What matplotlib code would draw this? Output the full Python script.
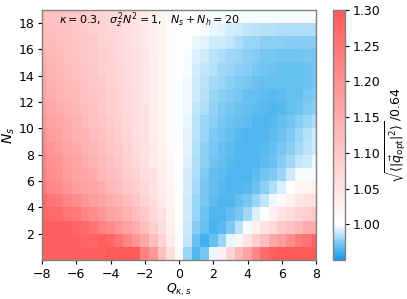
import numpy as np
import matplotlib
matplotlib.use("Agg")
import matplotlib.pyplot as plt
from matplotlib.colors import LinearSegmentedColormap

# Q values are the cell centres, Ns rows are cell-edge aligned (top row first below)
q_values = np.arange(-8, 8.5, 0.5)
ns_edges = np.arange(0, 20)
x_ticks = [-8, -6, -4, -2, 0, 2, 4, 6, 8]
y_ticks = [2, 4, 6, 8, 10, 12, 14, 16, 18]
cbar_ticks = [1.00, 1.05, 1.10, 1.15, 1.20, 1.25, 1.30]

# Q<=0 side, rows Ns=18 down to 0
left_rows = [
    [1.12, 1.115, 1.11, 1.105, 1.10, 1.095, 1.09, 1.08, 1.075, 1.065, 1.06, 1.05, 1.04, 1.03, 1.02, 1.01, 1.00],
    [1.125, 1.12, 1.115, 1.11, 1.10, 1.095, 1.09, 1.085, 1.075, 1.07, 1.06, 1.05, 1.04, 1.03, 1.02, 1.01, 1.00],
    [1.13, 1.125, 1.12, 1.11, 1.105, 1.10, 1.095, 1.085, 1.08, 1.07, 1.06, 1.05, 1.04, 1.03, 1.02, 1.01, 1.00],
    [1.14, 1.13, 1.125, 1.115, 1.11, 1.10, 1.095, 1.09, 1.08, 1.07, 1.06, 1.055, 1.045, 1.03, 1.02, 1.01, 1.00],
    [1.15, 1.14, 1.13, 1.12, 1.115, 1.105, 1.10, 1.09, 1.085, 1.075, 1.065, 1.055, 1.045, 1.035, 1.02, 1.01, 1.00],
    [1.155, 1.145, 1.135, 1.125, 1.12, 1.11, 1.10, 1.095, 1.085, 1.075, 1.065, 1.055, 1.045, 1.035, 1.02, 1.01, 1.00],
    [1.16, 1.15, 1.14, 1.13, 1.125, 1.115, 1.105, 1.10, 1.09, 1.08, 1.07, 1.06, 1.045, 1.035, 1.02, 1.01, 1.00],
    [1.175, 1.16, 1.15, 1.14, 1.13, 1.12, 1.11, 1.10, 1.09, 1.08, 1.07, 1.06, 1.05, 1.035, 1.02, 1.01, 1.00],
    [1.185, 1.17, 1.16, 1.15, 1.14, 1.125, 1.115, 1.105, 1.095, 1.085, 1.07, 1.06, 1.05, 1.035, 1.02, 1.01, 1.00],
    [1.20, 1.18, 1.17, 1.155, 1.145, 1.135, 1.12, 1.11, 1.10, 1.09, 1.075, 1.06, 1.05, 1.035, 1.02, 1.01, 1.00],
    [1.21, 1.19, 1.18, 1.165, 1.155, 1.14, 1.13, 1.12, 1.105, 1.095, 1.08, 1.065, 1.05, 1.04, 1.025, 1.012, 1.001],
    [1.22, 1.20, 1.19, 1.175, 1.165, 1.15, 1.14, 1.125, 1.115, 1.10, 1.085, 1.07, 1.055, 1.04, 1.03, 1.015, 1.001],
    [1.23, 1.21, 1.20, 1.18, 1.17, 1.16, 1.15, 1.13, 1.12, 1.11, 1.09, 1.08, 1.06, 1.05, 1.03, 1.015, 1.001],
    [1.24, 1.22, 1.21, 1.19, 1.18, 1.17, 1.16, 1.15, 1.13, 1.12, 1.10, 1.09, 1.07, 1.05, 1.035, 1.02, 1.002],
    [1.27, 1.25, 1.24, 1.22, 1.21, 1.19, 1.18, 1.17, 1.15, 1.14, 1.12, 1.10, 1.08, 1.06, 1.04, 1.02, 1.002],
    [1.28, 1.27, 1.27, 1.25, 1.24, 1.22, 1.21, 1.19, 1.17, 1.16, 1.14, 1.12, 1.10, 1.07, 1.05, 1.025, 1.003],
    [1.29, 1.29, 1.29, 1.29, 1.28, 1.27, 1.25, 1.23, 1.21, 1.19, 1.17, 1.15, 1.12, 1.09, 1.06, 1.03, 1.005],
    [1.29, 1.29, 1.29, 1.29, 1.29, 1.28, 1.28, 1.29, 1.28, 1.25, 1.22, 1.19, 1.16, 1.12, 1.08, 1.04, 1.005],
    [1.29, 1.29, 1.29, 1.29, 1.29, 1.29, 1.29, 1.29, 1.30, 1.30, 1.30, 1.30, 1.23, 1.19, 1.115, 1.06, 1.01],
]

# same rows, Q>0 side
right_rows = [
    [1.0, 1.0, 1.0, .999, .999, .999, .999, .998, .998, .998, .998, .998, .998, .998, .998, .998],
    [1.0, 1.0, .998, .996, .994, .992, .99, .988, .986, .985, .985, .984, .984, .983, .983, .983],
    [1.0, .996, .994, .99, .99, .987, .983, .98, .979, .977, .976, .976, .975, .975, .975, .975],
    [.999, .993, .99, .986, .984, .981, .979, .977, .975, .973, .972, .971, .971, .971, .972, .973],
    [.998, .992, .988, .985, .981, .979, .976, .975, .973, .971, .97, .969, .969, .969, .97, .972],
    [.997, .991, .986, .982, .979, .977, .974, .973, .97, .969, .968, .968, .968, .969, .97, .973],
    [.997, .99, .985, .98, .976, .974, .972, .969, .968, .967, .966, .967, .968, .969, .972, .974],
    [.997, .988, .983, .978, .974, .972, .97, .969, .967, .966, .965, .966, .968, .97, .974, .977],
    [.996, .986, .98, .976, .973, .97, .968, .967, .965, .965, .966, .968, .971, .975, .979, .983],
    [.995, .986, .979, .974, .971, .969, .966, .965, .964, .965, .967, .97, .974, .979, .985, .99],
    [.994, .985, .977, .973, .969, .967, .965, .964, .964, .966, .969, .972, .976, .982, .986, .99],
    [.993, .984, .976, .971, .968, .966, .964, .964, .965, .967, .97, .975, .981, .987, .991, .997],
    [.992, .983, .974, .969, .967, .964, .964, .964, .967, .971, .974, .98, .99, .998, .999, 1.01],
    [.992, .982, .973, .969, .966, .964, .964, .966, .97, .977, .983, .993, 1.0, 1.02, 1.025, 1.03],
    [.991, .98, .972, .967, .965, .965, .968, .973, .98, .987, .997, 1.01, 1.03, 1.045, 1.05, 1.06],
    [.991, .98, .97, .964, .964, .968, .973, .981, .993, 1.0, 1.03, 1.05, 1.065, 1.08, 1.09, 1.10],
    [.989, .975, .968, .963, .966, .974, .986, .998, 1.03, 1.05, 1.07, 1.10, 1.11, 1.13, 1.15, 1.16],
    [.987, .97, .962, .968, .98, .996, 1.02, 1.05, 1.09, 1.12, 1.16, 1.18, 1.21, 1.24, 1.26, 1.28],
    [.979, .964, .973, .997, 1.03, 1.08, 1.13, 1.17, 1.22, 1.27, 1.29, 1.30, 1.30, 1.30, 1.30, 1.30],
]

vmin, vmax = 0.95, 1.30
white_at = (1.0 - vmin) / (vmax - vmin)
cmap = LinearSegmentedColormap.from_list(
    "bwr_soft", [(0.0, "#0f9bea"), (white_at, "#ffffff"), (1.0, "#ff5a5a")])

grid = np.array([l + r for l, r in zip(left_rows, right_rows)])[::-1]
q_edges = np.concatenate(([q_values[0] - 0.25], q_values + 0.25))

W, H = 407, 299
fig = plt.figure(figsize=(W / 100, H / 100), dpi=100)
ax = fig.add_axes([42 / W, (H - 260) / H, 274 / W, 250 / H])
cax = fig.add_axes([333 / W, (H - 260) / H, 12 / W, 250 / H])

mesh = ax.pcolormesh(q_edges, ns_edges, grid, cmap=cmap, vmin=vmin, vmax=vmax)
ax.set_xlim(-8, 8)
ax.set_ylim(0, 19)
ax.set_xticks(x_ticks)
ax.set_yticks(y_ticks)
ax.tick_params(labelsize=9, length=3, width=0.8, pad=2.5)
ax.set_xlabel(r"$Q_{\kappa,s}$", fontsize=9, labelpad=1)
ax.set_ylabel(r"$N_s$", fontsize=10, labelpad=1)
ax.text(-7.0, 18.25, r"$\kappa=0.3,\ \ \sigma_z^2 N^2=1,\ \ N_s+N_h=20$",
        fontsize=8, va="center", ha="left")

cb = fig.colorbar(mesh, cax=cax, ticks=cbar_ticks)
cb.ax.tick_params(labelsize=9, length=3, width=0.8, pad=2.5)
cb.ax.set_yticklabels([f"{t:.2f}" for t in cbar_ticks])
cb.set_label(r"$\sqrt{\langle|\vec{q}_{\rm opt}|^2\rangle}\,/0.64$", fontsize=9, labelpad=2)

for a in (ax, cax):
    for s in a.spines.values():
        s.set_color("#808080")
        s.set_linewidth(1.0)
cb.outline.set_edgecolor("#808080")

fig.savefig("out.png", dpi=100)
